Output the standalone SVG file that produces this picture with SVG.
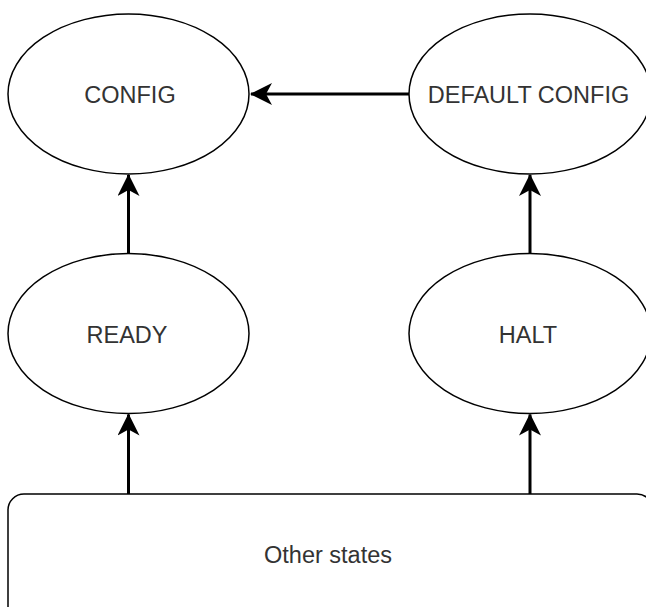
<svg xmlns="http://www.w3.org/2000/svg" width="646" height="607" viewBox="0 0 646 607">
  <style>
    .state { fill: #ffffff; stroke: #000000; stroke-width: 1.5; }
    .label { font-family: "Liberation Sans", Arial, sans-serif; font-size: 23.5px; fill: #333333; text-anchor: middle; }
    .edge { fill: none; stroke: #000000; stroke-width: 3; }
  </style>
  <defs>
    <marker id="arrow" viewBox="0 0 22 22" refX="21" refY="11" markerWidth="22" markerHeight="22" markerUnits="userSpaceOnUse" orient="auto">
      <path d="M 0 0 L 22 11 L 0 22 L 6 11 Z" fill="#000000"/>
    </marker>
  </defs>

  <rect width="646" height="607" fill="#ffffff"/>

  <g id="config">
    <ellipse class="state" cx="128.5" cy="94" rx="120.5" ry="80"/>
    <text class="label" x="130" y="103">CONFIG</text>
  </g>

  <g id="default-config">
    <ellipse class="state" cx="530" cy="94" rx="121" ry="80"/>
    <text class="label" x="528.5" y="103">DEFAULT CONFIG</text>
  </g>

  <g id="ready">
    <ellipse class="state" cx="128.5" cy="333.5" rx="120.5" ry="80"/>
    <text class="label" x="127" y="343">READY</text>
  </g>

  <g id="halt">
    <ellipse class="state" cx="530" cy="333.5" rx="121" ry="80"/>
    <text class="label" x="528" y="343">HALT</text>
  </g>

  <g id="other-states">
    <rect class="state" x="8" y="494" width="645" height="130" rx="16" ry="16"/>
    <text class="label" x="328" y="563">Other states</text>
  </g>

  <g id="connectors">
    <line class="edge" x1="409" y1="94" x2="251" y2="94" marker-end="url(#arrow)"/>
    <line class="edge" x1="128.5" y1="253.5" x2="128.5" y2="175" marker-end="url(#arrow)"/>
    <line class="edge" x1="530" y1="253.5" x2="530" y2="175" marker-end="url(#arrow)"/>
    <line class="edge" x1="128.5" y1="494" x2="128.5" y2="414.5" marker-end="url(#arrow)"/>
    <line class="edge" x1="530" y1="494" x2="530" y2="414.5" marker-end="url(#arrow)"/>
  </g>
</svg>
